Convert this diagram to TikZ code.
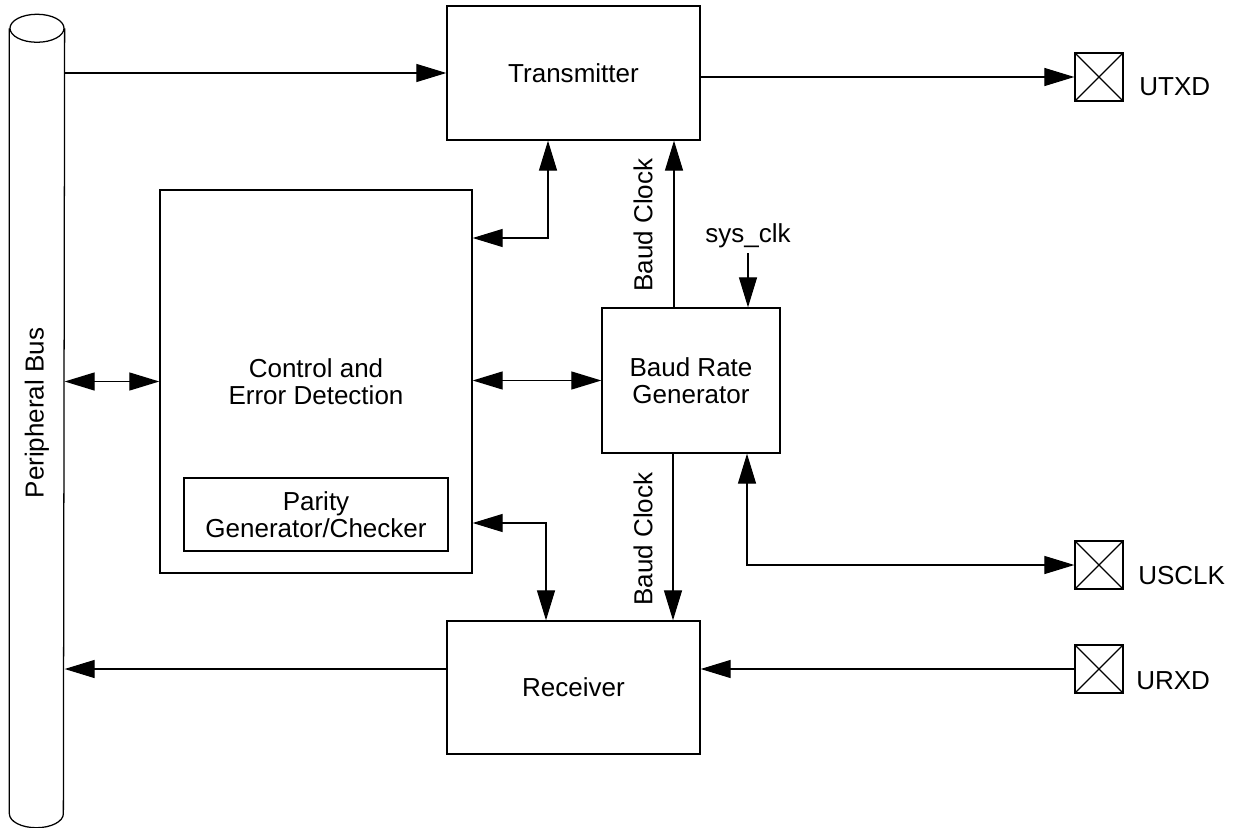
\documentclass[tikz,border=0pt]{standalone}
\usepackage{fontspec}
\setmainfont{Liberation Sans}
\usetikzlibrary{arrows.meta,calc}

\begin{document}
\begin{tikzpicture}[x=0.025cm, y=-0.025cm, line width=0.9pt,
  every node/.style={font=\fontsize{18.5}{19.5}\selectfont, align=center},
  block/.style={draw, inner sep=0pt},
  pin/.style={draw, minimum size=1.2cm, inner sep=0pt,
    path picture={\draw (path picture bounding box.north west) -- (path picture bounding box.south east)
      (path picture bounding box.north east) -- (path picture bounding box.south west);}},
  >={Triangle[length=0.75cm, width=0.45cm]}]

  \useasboundingbox (0,0) rectangle (1237,828);

  % ========== Peripheral bus (cylinder) ==========
  \node[minimum width=1.35cm, minimum height=19.6cm, inner sep=0pt] (bus) at (37,421) {};
  \draw (bus.north) ellipse [x radius=27, y radius=14];
  \draw (bus.north west) -- (bus.south west) arc[start angle=180, end angle=0, x radius=27, y radius=14] -- (bus.north east);
  \node[rotate=90] (buslabel) at (37,413) {Peripheral Bus};

  % ========== Blocks ==========
  \node[block, minimum width=6.325cm, minimum height=3.35cm] (tx) at (573.5,73) {Transmitter};
  \node[block, minimum width=7.8cm, minimum height=9.575cm] (ctrl) at (316,381.5) {Control and\\Error Detection};
  \node[block, minimum width=6.6cm, minimum height=1.825cm] (parity) at (316,514.5) {Parity\\Generator/Checker};
  \node[block, minimum width=4.45cm, minimum height=3.625cm] (brg) at (691,380.5) {Baud Rate\\Generator};
  \node[block, minimum width=6.325cm, minimum height=3.325cm] (rx) at (573.5,687.5) {Receiver};

  % --- Pins ---
  \node[pin] (utxd) at (1099,77) {};
  \node[pin] (usclk) at (1099,565) {};
  \node[pin] (urxd) at (1099,669) {};
  \node[anchor=west] (utxdlabel) at (1134,86.5) {UTXD};
  \node[anchor=west] (usclklabel) at (1133,576) {USCLK};
  \node[anchor=west] (urxdlabel) at (1131,681) {URXD};

  % ========== Connectors ==========
  % bus -> transmitter -> UTXD
  \draw[->] (bus.east |- tx.west) -- (tx.west);
  \draw[->] (tx.east |- utxd.west) -- (utxd.west);

  % control <-> transmitter
  \coordinate (txbend) at (548,238);
  \draw[<->] (ctrl.east |- txbend) -- (txbend) -- (txbend |- tx.south);

  % baud clock up
  \coordinate (clkup) at (674,224);
  \draw[->] (clkup |- brg.north) -- (clkup |- tx.south);
  \node[rotate=90] (clkuplabel) at (643,225) {Baud Clock};

  % sys_clk
  \node (sysclk) at (748,236) {sys\_clk};
  \draw[->] (sysclk.south) -- (sysclk.south |- brg.north);

  % bus <-> control <-> baud rate generator
  \draw[<->] (bus.east |- ctrl.west) -- (ctrl.west);
  \draw[<->] (ctrl.east |- brg.west) -- (brg.west);

  % control <-> receiver
  \coordinate (rxbend) at (546,523);
  \draw[<->] (ctrl.east |- rxbend) -- (rxbend) -- (rxbend |- rx.north);

  % baud clock down
  \coordinate (clkdown) at (673,540);
  \draw[->] (clkdown |- brg.south) -- (clkdown |- rx.north);
  \node[rotate=90] (clkdownlabel) at (643,539) {Baud Clock};

  % USCLK
  \coordinate (usbend) at (747,565);
  \draw[<->] (usbend |- brg.south) -- (usbend) -- (usclk.west);

  % URXD -> receiver -> bus
  \draw[->] (urxd.west) -- (urxd.west -| rx.east);
  \draw[->] (urxd.west -| rx.west) -- (urxd.west -| bus.east);

\end{tikzpicture}
\end{document}
